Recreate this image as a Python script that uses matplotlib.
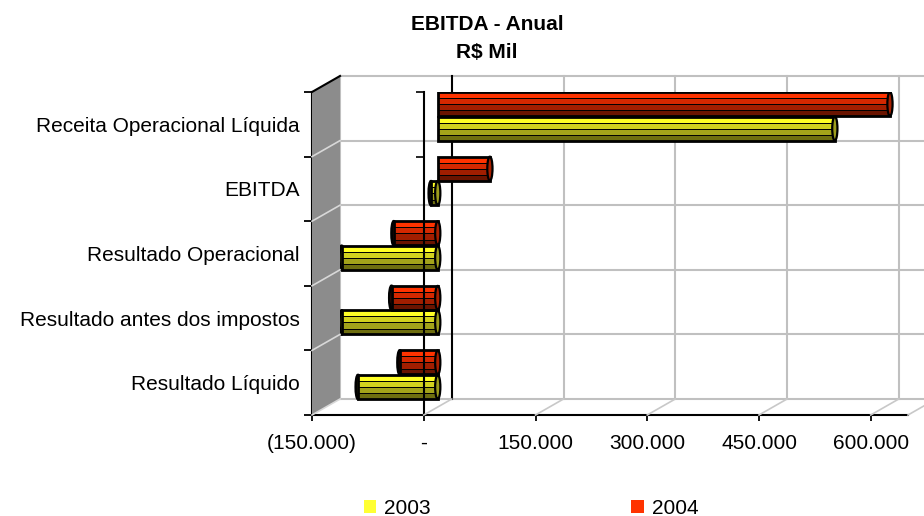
import matplotlib
matplotlib.use('Agg')
import matplotlib.pyplot as plt
import matplotlib.transforms as mtransforms
from matplotlib.patches import Ellipse, Polygon, Patch
from matplotlib.lines import Line2D
import numpy as np

plt.rcParams['font.family'] = ['Liberation Sans', 'DejaVu Sans']

# dados (R$ mil) - de baixo para cima
categorias = ['Resultado Líquido', 'Resultado antes dos impostos',
              'Resultado Operacional', 'EBITDA', 'Receita Operacional Líquida']
anos = ['2003', '2004']
valores_2003 = [-107000, -129000, -129000, -9000, 533000]
valores_2004 = [-51000, -62000, -59000, 70000, 607000]
x_ticks = [-150000, 0, 150000, 300000, 450000, 600000]
x_min, x_max = -150000, 650000


def fmt(v):
    if v == 0:
        return '-'
    s = f"{abs(int(v)):,}".replace(',', '.')
    return f"({s})" if v < 0 else s


fig = plt.figure(figsize=(9.24, 5.16), dpi=100)
ax = fig.add_axes([312 / 924, 101 / 516, 596 / 924, 323 / 516])
ax.set_xlim(x_min, x_max)
ax.set_ylim(0, 5)
ax.patch.set_alpha(0)

# profundidade do "3D"
DX, DY = 28, 16
fundo = mtransforms.offset_copy(ax.transData, fig=fig, x=DX, y=DY, units='dots')
meio = mtransforms.offset_copy(ax.transData, fig=fig, x=DX / 2, y=DY / 2, units='dots')
ident = mtransforms.IdentityTransform()


def diag(x, y, cor, lw=1.2, z=1):
    p0 = ax.transData.transform((x, y))
    p1 = fundo.transform((x, y))
    fig.add_artist(Line2D([p0[0], p1[0]], [p0[1], p1[1]], color=cor, lw=lw,
                          transform=ident, zorder=z))


# parede esquerda
pts = [ax.transData.transform((x_min, 0)), ax.transData.transform((x_min, 5)),
       fundo.transform((x_min, 5)), fundo.transform((x_min, 0))]
fig.add_artist(Polygon(pts, closed=True, facecolor='#8C8C8C', edgecolor='none',
                       transform=ident, zorder=0.5))
for yy in range(0, 5):
    diag(x_min, yy, '#D8D8D8')
diag(x_min, 5, 'black', lw=1.5, z=2)

# piso
for xx in x_ticks + [x_max]:
    if xx != x_min:
        diag(xx, 0, '#C8C8C8')
ax.plot([x_min, x_max], [0, 0], color='#C0C0C0', lw=1.5, transform=fundo, clip_on=False, zorder=1)

# parede do fundo (grade)
for xx in x_ticks:
    cor = 'black' if xx == 0 else '#C0C0C0'
    ax.plot([xx, xx], [0, 5], color=cor, lw=1.5, transform=fundo, clip_on=False, zorder=1)
for yy in range(1, 6):
    ax.plot([x_min, x_max + 20000], [yy, yy], color='#C0C0C0', lw=1.5, transform=fundo,
            clip_on=False, zorder=0.9)

# cilindros
h = 0.37
fracs = [0.25, 0.25, 0.27, 0.23]
cores_2003 = ['#FFFF26', '#D2D21E', '#A3A31A', '#6E6E10']
cores_2004 = ['#FF3300', '#D42800', '#A11E00', '#6A1400']


def cilindro(vals, desloc, cores, cor_tampa):
    y = np.arange(len(vals)) + 0.5 + desloc
    # ponta esquerda arredondada (barras negativas)
    for v, yy in zip(vals, y):
        if v < 0:
            ax.add_patch(Ellipse((v, yy), 6000, h, facecolor=cores[2], edgecolor='black',
                                 lw=2, transform=meio, zorder=2.9))
    topo = y + h / 2
    for fr, c in zip(fracs, cores):
        ax.barh(topo - fr * h / 2, vals, height=fr * h, color=c, edgecolor='black',
                linewidth=0.7, transform=meio, zorder=3)
        topo = topo - fr * h
    ax.barh(y, vals, height=h, fill=False, edgecolor='black', linewidth=2,
            transform=meio, zorder=3.05)
    for v, yy in zip(vals, y):
        ax.add_patch(Ellipse((max(v, 0), yy), 7000, h, facecolor=cor_tampa, edgecolor='black',
                             lw=1.6, transform=meio, zorder=3.1))


cilindro(valores_2004, 0.19, cores_2004, '#A82000')
cilindro(valores_2003, -0.19, cores_2003, '#9C9C1C')

# eixo de categorias em zero (plano da frente)
ax.plot([0, 0], [0, 5], color='black', lw=1.5, zorder=4, clip_on=False)
ax.plot([0, 0], [4, 5], ls='', marker=0, ms=6, mew=1.2, color='black', zorder=4, clip_on=False)

# eixos
for s in ['top', 'right']:
    ax.spines[s].set_visible(False)
for s in ['left', 'bottom']:
    ax.spines[s].set_linewidth(1.5)
    ax.spines[s].set_zorder(4)
ax.set_xticks(x_ticks, [fmt(v) for v in x_ticks])
ax.tick_params(axis='x', length=4.5, width=1.3, pad=9, labelsize=15)
ax.set_yticks(np.arange(5) + 0.5, categorias)
ax.set_yticks(range(6), minor=True)
ax.tick_params(axis='y', which='major', length=0, pad=9, labelsize=15)
ax.tick_params(axis='y', which='minor', length=6, width=1.3)

# titulo
fig.text(487 / 924, 1 - 25 / 516, 'EBITDA - Anual', ha='center', va='center',
         fontsize=15, fontweight='bold')
fig.text(487 / 924, 1 - 52 / 516, 'R$ Mil', ha='center', va='center',
         fontsize=15, fontweight='bold')

# legenda
handles = [Patch(facecolor='#FFFF33', edgecolor='none'), Patch(facecolor='#FF3300', edgecolor='none')]
fig.legend(handles, anos, ncol=2, loc='center', bbox_to_anchor=(531 / 924, 1 - 508 / 516),
           frameon=False, fontsize=15, handlelength=0.6, handleheight=0.6,
           handletextpad=0.4, columnspacing=9.6, borderpad=0)

fig.savefig('out.png', dpi=100)
